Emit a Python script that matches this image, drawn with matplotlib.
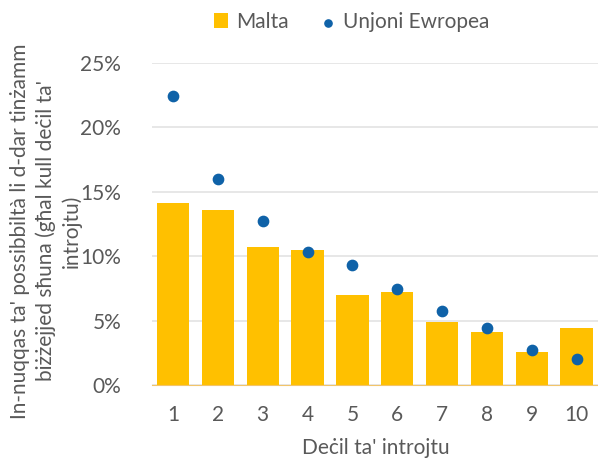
import matplotlib.pyplot as plt
import numpy as np

# data
deciles = ['1', '2', '3', '4', '5', '6', '7', '8', '9', '10']
malta = [14.1, 13.6, 10.7, 10.5, 7.0, 7.2, 4.9, 4.1, 2.6, 4.4]
eu = [22.4, 16.0, 12.7, 10.3, 9.3, 7.45, 5.75, 4.4, 2.7, 2.0]

plt.rcParams['font.family'] = ['Lato', 'DejaVu Sans']
text_col = '#595959'

fig = plt.figure(figsize=(5.98, 4.59), dpi=100)
ax = fig.add_axes([0.254, 0.161, 0.75, 0.702])

x = np.arange(len(deciles))
bars = ax.bar(x, np.array(malta) / 100, width=0.72, color='#FFC000', label='Malta', zorder=2)
dots = ax.scatter(x, np.array(eu) / 100, s=55, color='#0F62A8', label='Unjoni Ewropea', zorder=3)

ax.set_ylim(0, 0.25)
ax.set_xlim(-0.47, 9.53)
ax.set_yticks([0, 0.05, 0.10, 0.15, 0.20, 0.25])
ax.set_yticklabels(['0%', '5%', '10%', '15%', '20%', '25%'])
ax.set_xticks(x)
ax.set_xticklabels(deciles)
ax.yaxis.grid(True, color='#E3E3E3', linewidth=1.2, zorder=0)
ax.set_axisbelow(True)
for s in ['top', 'right', 'left']:
    ax.spines[s].set_visible(False)
ax.spines['bottom'].set_color('#F2C46A')
ax.tick_params(length=0, labelsize=15, colors=text_col)
ax.tick_params(axis='x', pad=14)
ax.tick_params(axis='y', pad=22)

ax.set_xlabel("Deċil ta' introjtu", fontsize=15, color=text_col, labelpad=10)
fig.text(0.077, 0.497,
         "In-nuqqas ta' possibbiltà li d-dar tinżamm\nbiżżejjed sħuna (għal kull deċil ta'\nintrojtu)",
         rotation=90, ha='center', va='center', fontsize=15, color=text_col,
         linespacing=1.3)

leg = fig.legend([bars, dots], ['Malta', 'Unjoni Ewropea'],
                 loc='center', bbox_to_anchor=(0.588, 0.952), ncol=2, frameon=False,
                 fontsize=15, handlelength=0.7, handletextpad=0.4, columnspacing=1.5,
                 markerscale=0.7)
for t in leg.get_texts():
    t.set_color(text_col)

fig.savefig('out.png', dpi=100)
